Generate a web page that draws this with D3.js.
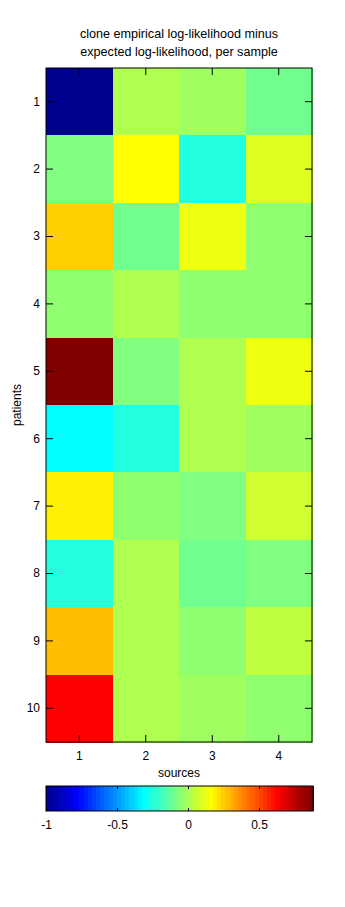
<!DOCTYPE html>
<html>
<head>
<meta charset="utf-8">
<script src="https://cdn.jsdelivr.net/npm/d3@7"></script>
<style>
  body { margin: 0; background: #fff; }
  svg text { font-family: "Liberation Sans", Arial, sans-serif; font-size: 12px; fill: #000; }
</style>
</head>
<body>
<div id="chart"></div>
<script>
// rows = patients, columns = sources
const patients = ["1", "2", "3", "4", "5", "6", "7", "8", "9", "10"];
const sources = ["1", "2", "3", "4"];

// log-likelihood difference per sample, one array per source (top to bottom = patient 1..10)
const source1 = [-1.00, -0.075, 0.248, -0.045, 0.88, -0.310, 0.190, -0.251, 0.278, 0.630];
const source2 = [0.013, 0.160, -0.104, 0.013, -0.075, -0.251, -0.045, 0.013, 0.013, 0.013];
const source3 = [-0.016, -0.251, 0.131, -0.045, 0.013, 0.013, -0.075, -0.104, -0.045, -0.016];
const source4 = [-0.104, 0.102, -0.045, -0.045, 0.131, -0.016, 0.072, -0.075, 0.043, -0.045];

const colorbarTicks = [-1, -0.5, 0, 0.5];

const titleLines = ["clone empirical log-likelihood minus", "expected log-likelihood, per sample"];

// build cell table
const columns = [source1, source2, source3, source4];
const cells = [];
columns.forEach((col, j) => {
    col.forEach((v, i) => cells.push({ patient: patients[i], source: sources[j], value: v }));
});

const width = 345, height = 907;
const svg = d3.select("#chart").append("svg")
    .attr("width", width)
    .attr("height", height);

const plot = { left: 46, right: 312, top: 68, bottom: 742 };

const x = d3.scaleBand().domain(sources).range([plot.left, plot.right]).padding(0);
const y = d3.scaleBand().domain(patients).range([plot.top, plot.bottom]).padding(0);

// matlab jet(64)
const jet = d3.range(64).map(k => {
    const i = k + 1;
    let r, g, b;
    if (i <= 8) { r = 0; g = 0; b = 0.5 + i / 16; }
    else if (i <= 24) { r = 0; g = (i - 8) / 16; b = 1; }
    else if (i <= 40) { r = (i - 24) / 16; g = 1; b = 1 - (i - 24) / 16; }
    else if (i <= 56) { r = 1; g = 1 - (i - 40) / 16; b = 0; }
    else { r = 1 - (i - 56) / 16; g = 0; b = 0; }
    return d3.rgb(r * 255, g * 255, b * 255).formatHex();
});

const clim = d3.extent(cells, d => d.value);
const color = d3.scaleQuantize().domain(clim).range(jet);

// cells
svg.append("g")
    .attr("shape-rendering", "crispEdges")
    .selectAll("rect")
    .data(cells)
    .enter()
    .append("rect")
    .attr("x", d => x(d.source))
    .attr("y", d => y(d.patient))
    .attr("width", x.bandwidth() + 0.5)
    .attr("height", y.bandwidth() + 0.5)
    .attr("fill", d => color(d.value));

// ticks on all four sides, pointing inward
const tickLen = 7;
svg.append("g")
    .attr("transform", `translate(${plot.left},0)`)
    .call(d3.axisLeft(y).tickSizeInner(-tickLen).tickSizeOuter(0).tickPadding(6))
    .call(g => g.select(".domain").remove());
svg.append("g")
    .attr("transform", `translate(${plot.right},0)`)
    .call(d3.axisRight(y).tickSizeInner(-tickLen).tickSizeOuter(0).tickFormat(""))
    .call(g => g.select(".domain").remove());
svg.append("g")
    .attr("transform", `translate(0,${plot.bottom})`)
    .call(d3.axisBottom(x).tickSizeInner(-tickLen).tickSizeOuter(0).tickPadding(9))
    .call(g => g.select(".domain").remove());
svg.append("g")
    .attr("transform", `translate(0,${plot.top})`)
    .call(d3.axisTop(x).tickSizeInner(-tickLen).tickSizeOuter(0).tickFormat(""))
    .call(g => g.select(".domain").remove());

// frame
svg.append("rect")
    .attr("x", plot.left)
    .attr("y", plot.top)
    .attr("width", plot.right - plot.left)
    .attr("height", plot.bottom - plot.top)
    .attr("fill", "none")
    .attr("stroke", "#000");

// title
svg.append("g").selectAll("text")
    .data(titleLines)
    .enter()
    .append("text")
    .attr("x", (plot.left + plot.right) / 2)
    .attr("y", (d, i) => 38 + i * 18)
    .attr("text-anchor", "middle")
    .style("font-size", "12.6px")
    .text(d => d);

// axis labels
svg.append("text")
    .attr("x", (plot.left + plot.right) / 2)
    .attr("y", 777)
    .attr("text-anchor", "middle")
    .text("sources");

svg.append("text")
    .attr("transform", `translate(20.5,${(plot.top + plot.bottom) / 2}) rotate(-90)`)
    .attr("text-anchor", "middle")
    .text("patients");

// colorbar
const cb = { left: 46, right: 313, top: 786, bottom: 811 };
const cx = d3.scaleLinear().domain(clim).range([cb.left, cb.right]);
const bandW = (cb.right - cb.left) / jet.length;

svg.append("g")
    .attr("shape-rendering", "crispEdges")
    .selectAll("rect")
    .data(jet)
    .enter()
    .append("rect")
    .attr("x", (d, i) => cb.left + i * bandW)
    .attr("y", cb.top)
    .attr("width", bandW + 1)
    .attr("height", cb.bottom - cb.top)
    .attr("fill", d => d);

const cbTick = 3;
svg.append("g")
    .attr("transform", `translate(0,${cb.bottom})`)
    .call(d3.axisBottom(cx).tickValues(colorbarTicks).tickFormat(d => String(d))
        .tickSizeInner(-cbTick).tickSizeOuter(0).tickPadding(9))
    .call(g => g.select(".domain").remove());
svg.append("g")
    .attr("transform", `translate(0,${cb.top})`)
    .call(d3.axisTop(cx).tickValues(colorbarTicks).tickFormat("")
        .tickSizeInner(-cbTick).tickSizeOuter(0))
    .call(g => g.select(".domain").remove());

// let the stylesheet font apply to tick labels
svg.selectAll(".tick text").attr("font-family", null).attr("font-size", null);

svg.append("rect")
    .attr("x", cb.left)
    .attr("y", cb.top)
    .attr("width", cb.right - cb.left)
    .attr("height", cb.bottom - cb.top)
    .attr("fill", "none")
    .attr("stroke", "#000");
</script>
</body>
</html>
